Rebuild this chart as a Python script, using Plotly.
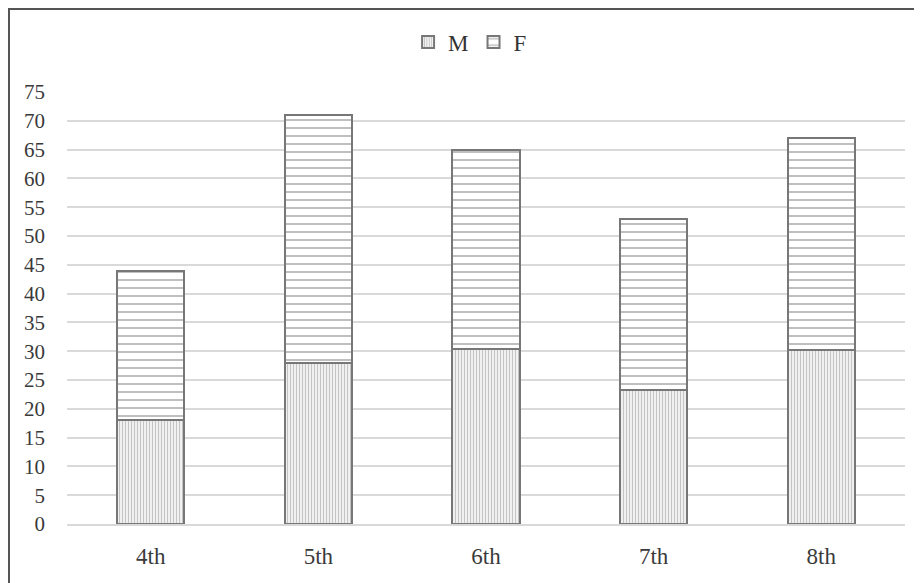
import plotly.graph_objects as go

categories = ["4th", "5th", "6th", "7th", "8th"]
m_values = [18, 28, 30.3, 23.2, 30.2]
f_values = [26, 43, 34.7, 29.8, 36.8]
y_ticks = list(range(0, 80, 5))

fig = go.Figure()
fig.add_trace(go.Bar(
    x=categories, y=m_values, name="M", width=0.4,
    marker=dict(color="white", line=dict(color="#777777", width=2),
                pattern=dict(shape="|", size=3, solidity=0.5, fgcolor="#8a8a8a", bgcolor="white")),
))
fig.add_trace(go.Bar(
    x=categories, y=f_values, name="F", width=0.4,
    marker=dict(color="white", line=dict(color="#777777", width=2),
                pattern=dict(shape="-", size=8, solidity=0.25, fgcolor="#808080", bgcolor="white")),
))

fig.update_layout(
    barmode="stack",
    width=922, height=583,
    margin=dict(l=59, r=25, t=84, b=67),
    paper_bgcolor="white", plot_bgcolor="white",
    font=dict(family="Liberation Serif", color="#3a3a3a"),
    legend=dict(orientation="h", x=0.481, xanchor="center", y=1.1157, yanchor="middle",
                font=dict(size=23, color="#333333"), itemwidth=30, traceorder="normal"),
    showlegend=True,
)
fig.update_yaxes(range=[0, 75], tickvals=y_ticks, showgrid=True, gridcolor="#d9d9d9", gridwidth=1.5,
                 zeroline=False, showline=False, tickfont=dict(size=21), ticks="", ticklabelstandoff=21)
fig.update_xaxes(showgrid=False, showline=True, linecolor="#d9d9d9", linewidth=1.5,
                 tickfont=dict(size=23), ticks="", ticklabelstandoff=11)

fig.add_shape(type="rect", xref="paper", yref="paper",
              x0=-0.0692, x1=1.2, y0=-0.3, y1=1.1921,
              line=dict(color="#555555", width=2), fillcolor="rgba(0,0,0,0)", layer="below")

fig.write_html("out.html")
